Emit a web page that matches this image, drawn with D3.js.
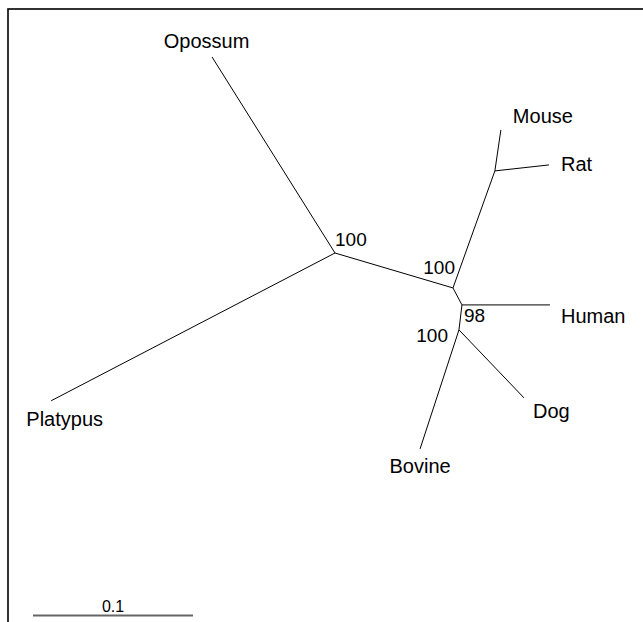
<html lang="en">
<head>
    <meta charset="utf-8">
    <title>Unrooted tree</title>
    <script src="https://cdn.jsdelivr.net/npm/d3@7"></script>
    <style type="text/css">
        body {
            margin: 0;
            background: #fff;
        }
        svg text {
            font-family: "Liberation Sans", Arial, Helvetica, sans-serif;
            fill: #000;
        }
        .branch {
            fill: none;
            stroke: #000;
            stroke-width: 1;
        }
    </style>
</head>
<body>
<svg id="chart"></svg>
<script type="text/javascript">

    // tree edges: parent -> child, branch length (substitutions/site), drawing angle (degrees)
    var parents  = ["A", "A", "A", "B", "B", "E", "E", "C", "C", "D", "D"];
    var children = ["Platypus", "Opossum", "B", "E", "C", "Mouse", "Rat", "Human", "D", "Dog", "Bovine"];
    var branchLengths = [0.2000, 0.1446, 0.0769, 0.0777, 0.0120, 0.0259, 0.0340, 0.0550, 0.0157, 0.0588, 0.0783];
    var branchAngles  = [207.5, 122.1, -16.5, 70.3, -62.1, 81.7, 6.3, 0, -96.8, -46.3, -108.1];

    // bootstrap support on internal nodes
    var bootNodes  = ["A", "B", "C", "D"];
    var bootValues = [100, 100, 98, 100];

    var scaleBarValue = 0.1;

    var width = 643,
        height = 622;

    // layout only: where the root sits and how labels hang off their points
    var rootPx = {x: 335, y: 253};
    var pxPerUnit = 1600;

    var tipLabelPlace = {
        "Opossum":  {anchor: "middle", dx: -5.5, dy: -9},
        "Mouse":    {anchor: "start",  dx: 12,   dy: -7},
        "Rat":      {anchor: "start",  dx: 12,   dy: 6},
        "Human":    {anchor: "start",  dx: 11,   dy: 18},
        "Dog":      {anchor: "start",  dx: 9,    dy: 20},
        "Bovine":   {anchor: "middle", dx: 0,    dy: 24},
        "Platypus": {anchor: "middle", dx: 13.5, dy: 25}
    };
    var bootLabelPlace = {
        "A": {anchor: "start", dx: 0,   dy: -7},
        "B": {anchor: "end",   dx: 2,   dy: -14},
        "C": {anchor: "start", dx: 2,   dy: 17},
        "D": {anchor: "end",   dx: -11, dy: 12}
    };

    var svg = d3.select("#chart")
        .attr("width", width)
        .attr("height", height);

    // frame (only top and left edges fall inside the window)
    svg.append("rect")
        .attr("x", 8)
        .attr("y", 9)
        .attr("width", width + 20)
        .attr("height", height + 20)
        .style("fill", "none")
        .style("stroke", "#000")
        .style("stroke-width", 1.6);

    var xScale = d3.scaleLinear()
        .domain([0, 1])
        .range([rootPx.x, rootPx.x + pxPerUnit]);
    var yScale = d3.scaleLinear()
        .domain([0, 1])
        .range([rootPx.y, rootPx.y - pxPerUnit]);

    // walk the edges from the root and give every node a position in tree units
    var pos = {"A": {x: 0, y: 0}};
    var edges = [];
    var pending = d3.range(parents.length);
    while (pending.length) {
        pending = pending.filter(function (i) {
            var p = pos[parents[i]];
            if (!p) return true;
            var a = branchAngles[i] * Math.PI / 180;
            pos[children[i]] = {
                x: p.x + branchLengths[i] * Math.cos(a),
                y: p.y + branchLengths[i] * Math.sin(a)
            };
            edges.push({from: parents[i], to: children[i]});
            return false;
        });
    }

    svg.append("g")
        .selectAll("line")
        .data(edges)
        .enter().append("line")
        .attr("class", "branch")
        .attr("x1", function (d) { return xScale(pos[d.from].x); })
        .attr("y1", function (d) { return yScale(pos[d.from].y); })
        .attr("x2", function (d) { return xScale(pos[d.to].x); })
        .attr("y2", function (d) { return yScale(pos[d.to].y); });

    var tips = children.filter(function (c) { return parents.indexOf(c) < 0; });

    svg.append("g")
        .selectAll("text")
        .data(tips)
        .enter().append("text")
        .style("font-size", "20px")
        .attr("text-anchor", function (d) { return tipLabelPlace[d].anchor; })
        .attr("x", function (d) { return xScale(pos[d].x) + tipLabelPlace[d].dx; })
        .attr("y", function (d) { return yScale(pos[d].y) + tipLabelPlace[d].dy; })
        .text(function (d) { return d; });

    svg.append("g")
        .selectAll("text")
        .data(bootNodes)
        .enter().append("text")
        .style("font-size", "19px")
        .attr("text-anchor", function (d) { return bootLabelPlace[d].anchor; })
        .attr("x", function (d) { return xScale(pos[d].x) + bootLabelPlace[d].dx; })
        .attr("y", function (d) { return yScale(pos[d].y) + bootLabelPlace[d].dy; })
        .text(function (d, i) { return bootValues[i]; });

    // scale bar
    var barX0 = 33, barY = 615.5;
    var barLen = xScale(scaleBarValue) - xScale(0);
    svg.append("line")
        .attr("class", "branch")
        .attr("x1", barX0)
        .attr("x2", barX0 + barLen)
        .attr("y1", barY)
        .attr("y2", barY)
        .style("stroke", "#666")
        .style("stroke-width", 2);
    svg.append("text")
        .style("font-size", "16px")
        .attr("text-anchor", "middle")
        .attr("x", barX0 + barLen / 2)
        .attr("y", barY - 4)
        .text(scaleBarValue);

</script>
</body>
</html>
